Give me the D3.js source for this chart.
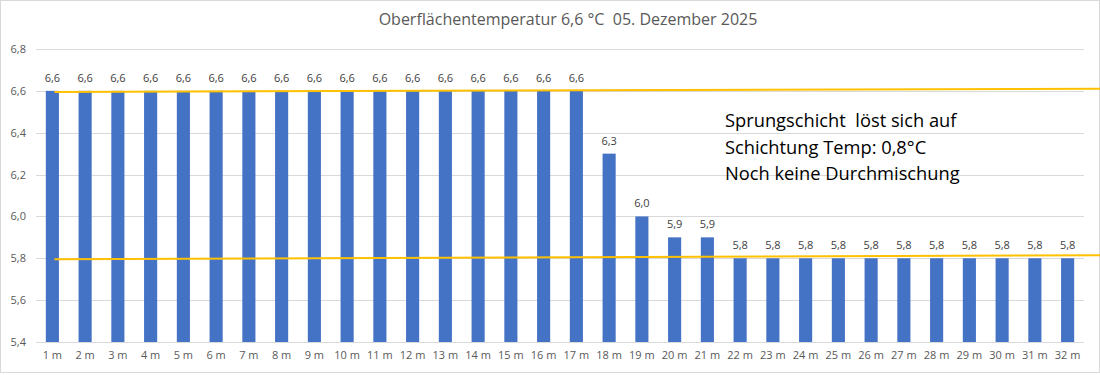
<!DOCTYPE html>
<html>
<head>
<meta charset="utf-8">
<script src="https://cdn.jsdelivr.net/npm/d3@7"></script>
<style>
    body { margin: 0; background: #fff; }
    svg { display: block; font-family: "Open Sans", "Noto Sans", sans-serif; }
    .keep-space { white-space: pre; }
</style>
</head>
<body>
<div id="chart"></div>
<script>
var depths = ["1 m", "2 m", "3 m", "4 m", "5 m", "6 m", "7 m", "8 m", "9 m", "10 m", "11 m", "12 m", "13 m", "14 m", "15 m", "16 m",
    "17 m", "18 m", "19 m", "20 m", "21 m", "22 m", "23 m", "24 m", "25 m", "26 m", "27 m", "28 m", "29 m", "30 m", "31 m", "32 m"];
var temps = [6.6, 6.6, 6.6, 6.6, 6.6, 6.6, 6.6, 6.6, 6.6, 6.6, 6.6, 6.6, 6.6, 6.6, 6.6, 6.6,
    6.6, 6.3, 6.0, 5.9, 5.9, 5.8, 5.8, 5.8, 5.8, 5.8, 5.8, 5.8, 5.8, 5.8, 5.8, 5.8];
var yTicks = [5.4, 5.6, 5.8, 6.0, 6.2, 6.4, 6.6, 6.8];
// hand drawn marker lines: [start value, end value]
var markerLines = [[6.595, 6.61], [5.795, 5.815]];
var titleText = "Oberflächentemperatur 6,6 °C  05. Dezember 2025";
var noteLines = ["Sprungschicht  löst sich auf", "Schichtung Temp: 0,8°C", "Noch keine Durchmischung"];

var width = 1100, height = 375;
var margin = { top: 49, right: 16, bottom: 33, left: 36 };
var innerW = width - margin.left - margin.right,
    innerH = height - margin.top - margin.bottom;

var fmt = function (v) { return v.toFixed(1).replace(".", ","); };

var svg = d3.select("#chart").append("svg")
    .attr("width", width)
    .attr("height", height);

// outer frame
svg.append("rect")
    .attr("x", 0.5).attr("y", 0.5)
    .attr("width", width - 1).attr("height", height - 3)
    .attr("fill", "none")
    .attr("stroke", "#d9d9d9");

svg.append("text")
    .attr("class", "keep-space")
    .attr("x", 568)
    .attr("y", 25)
    .attr("text-anchor", "middle")
    .attr("font-size", "16px")
    .attr("fill", "#595959")
    .text(titleText);

var g = svg.append("g").attr("transform", "translate(" + margin.left + "," + margin.top + ")");

var x = d3.scaleBand()
    .domain(depths)
    .range([0, innerW])
    .paddingInner(0.6)
    .paddingOuter(0.3);

var y = d3.scaleLinear()
    .domain([5.4, 6.8])
    .range([innerH, 0]);

// grid
g.append("g")
    .selectAll("line")
    .data(yTicks)
    .enter()
    .append("line")
    .attr("x1", 0)
    .attr("x2", innerW)
    .attr("y1", function (d) { return Math.round(y(d)) + 0.5; })
    .attr("y2", function (d) { return Math.round(y(d)) + 0.5; })
    .attr("stroke", "#d9d9d9");

var yAxis = d3.axisLeft(y)
    .tickValues(yTicks)
    .tickFormat(fmt)
    .tickSize(0)
    .tickPadding(10);

var gy = g.append("g").call(yAxis);
gy.select(".domain").remove();
gy.selectAll("text")
    .attr("font-size", "11px")
    .attr("fill", "#595959")
    .attr("font-family", "Open Sans, sans-serif");

var xAxis = d3.axisBottom(x).tickSize(0).tickPadding(9);
var gx = g.append("g")
    .attr("transform", "translate(0," + innerH + ")")
    .call(xAxis);
gx.select(".domain").remove();
gx.selectAll("text")
    .attr("font-size", "11px")
    .attr("fill", "#595959")
    .attr("font-family", "Open Sans, sans-serif");

var bars = g.selectAll(".bar")
    .data(temps)
    .enter()
    .append("g");

bars.append("rect")
    .attr("class", "bar")
    .attr("x", function (d, i) { return x(depths[i]); })
    .attr("width", x.bandwidth())
    .attr("y", function (d) { return y(d); })
    .attr("height", function (d) { return innerH - y(d); })
    .attr("fill", "#4472c4");

bars.append("text")
    .attr("x", function (d, i) { return x(depths[i]) + x.bandwidth() / 2; })
    .attr("y", function (d) { return y(d) - 9; })
    .attr("text-anchor", "middle")
    .attr("font-size", "11px")
    .attr("fill", "#404040")
    .text(fmt);

// orange marker lines
var lineStart = x(depths[0]) + x.bandwidth() / 2 + 2;
g.selectAll(".marker")
    .data(markerLines)
    .enter()
    .append("line")
    .attr("class", "marker")
    .attr("x1", lineStart)
    .attr("x2", width - margin.left)
    .attr("y1", function (d) { return y(d[0]); })
    .attr("y2", function (d) { return y(d[1]); })
    .attr("stroke", "#ffc000")
    .attr("stroke-width", 2);

svg.append("g")
    .selectAll("text")
    .data(noteLines)
    .enter()
    .append("text")
    .attr("class", "keep-space")
    .attr("x", 725)
    .attr("y", function (d, i) { return 127 + i * 26.5; })
    .attr("font-size", "18.3px")
    .attr("fill", "#000")
    .text(function (d) { return d; });
</script>
</body>
</html>
